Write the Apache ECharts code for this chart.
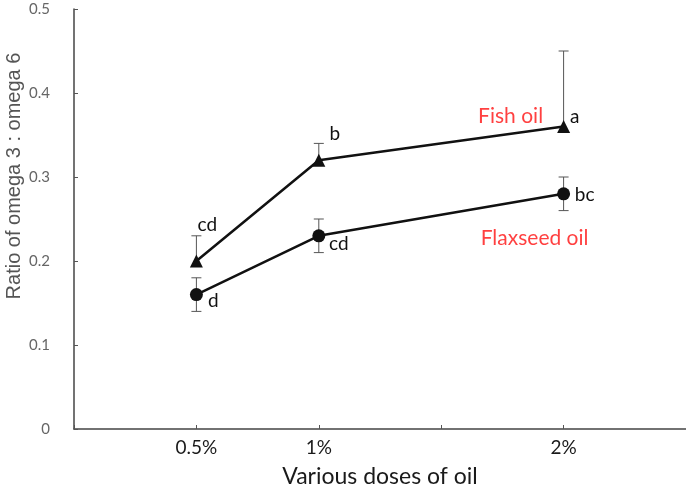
<!DOCTYPE html>
<html><head><meta charset="utf-8">
<script src="https://cdn.jsdelivr.net/npm/echarts@6/dist/echarts.min.js"></script>
<style>html,body{margin:0;padding:0;background:#fff}#c{width:686px;height:495px}</style>
</head><body><div id="c"></div>
<script>
const doses = [0.5, 1, 2];
const xTickLabels = {0.5: '0.5%', 1: '1%', 2: '2%'};
const seriesNames = ['Fish oil', 'Flaxseed oil'];
const fishMean = [0.20, 0.32, 0.36];
const fishErrUp = [0.03, 0.02, 0.09];
const fishLetters = ['cd', 'b', 'a'];
const flaxMean = [0.16, 0.23, 0.28];
const flaxErr = [0.02, 0.02, 0.02];
const flaxLetters = ['d', 'cd', 'bc'];
const xAxisTitle = 'Various doses of oil';
const yAxisTitle = 'Ratio of omega 3 : omega 6';

const fishOffsets = [[11,-36],[16,-26],[11,-10]];
const flaxOffsets = [[17,6],[20,8],[21,1]];

const fishErrTop = doses.map((d,i)=>[d, fishMean[i], fishMean[i]+fishErrUp[i], 0]);
const flaxErrBars = doses.map((d,i)=>[d, flaxMean[i]-flaxErr[i], flaxMean[i]+flaxErr[i], 1]);

function renderErr(params, api) {
  const x = api.value(0), lo = api.value(1), hi = api.value(2), capLo = api.value(3);
  const pHi = api.coord([x, hi]), pLo = api.coord([x, lo]);
  const w = 5;
  const style = {stroke: '#555', lineWidth: 1};
  const children = [
    {type: 'line', shape: {x1: pHi[0], y1: pHi[1], x2: pLo[0], y2: pLo[1]}, style},
    {type: 'line', shape: {x1: pHi[0]-w, y1: pHi[1], x2: pHi[0]+w, y2: pHi[1]}, style}
  ];
  if (capLo) children.push({type: 'line', shape: {x1: pLo[0]-w, y1: pLo[1], x2: pLo[0]+w, y2: pLo[1]}, style});
  return {type: 'group', children};
}

const FONT = 'Lato, "Open Sans", sans-serif';
function pointData(mean, letters, offs) {
  return doses.map((d,i)=>({
    value: [d, mean[i]],
    label: {show: true, formatter: letters[i], position: 'inside', offset: offs[i],
      color: '#111', fontSize: 19, fontFamily: FONT}
  }));
}

const chart = echarts.init(document.getElementById('c'));
chart.setOption({
  animation: false,
  grid: {left: 74, right: 0, top: 9, bottom: 66, containLabel: false, outerBoundsMode: 'none'},
  graphic: [{
    type: 'text', x: 14, y: 176, rotation: Math.PI / 2,
    style: {text: yAxisTitle, fill: '#555', fontSize: 20, align: 'center', verticalAlign: 'middle',
      fontFamily: '"Liberation Sans", Arial, sans-serif'}
  }],
  xAxis: {
    type: 'value', min: 0, max: 2.5, interval: 0.5,
    name: xAxisTitle, nameLocation: 'middle', nameGap: 36,
    nameTextStyle: {fontSize: 23, color: '#1a1a1a', fontFamily: FONT},
    axisLine: {show: true, lineStyle: {color: '#444', width: 1.5}},
    axisTick: {show: true, inside: true, length: 4, lineStyle: {color: '#555'}},
    axisLabel: {formatter: v => xTickLabels[v] || '', color: '#1a1a1a', fontSize: 19, margin: 9,
      fontFamily: FONT},
    splitLine: {show: false}
  },
  yAxis: {
    type: 'value', min: 0, max: 0.5, interval: 0.1,
    axisLine: {show: true, lineStyle: {color: '#444', width: 1.5}},
    axisTick: {show: true, inside: true, length: 4, lineStyle: {color: '#555'}},
    axisLabel: {color: '#666', fontSize: 15, margin: 24, fontFamily: FONT},
    splitLine: {show: false}
  },
  series: [
    {type: 'custom', renderItem: renderErr, data: fishErrTop, z: 1, silent: true},
    {type: 'custom', renderItem: renderErr, data: flaxErrBars, z: 1, silent: true},
    {name: seriesNames[0], type: 'line', data: pointData(fishMean, fishLetters, fishOffsets),
      symbol: 'triangle', symbolSize: 13, lineStyle: {color: '#111', width: 2.5},
      itemStyle: {color: '#111'}, z: 3},
    {name: seriesNames[1], type: 'line', data: pointData(flaxMean, flaxLetters, flaxOffsets),
      symbol: 'circle', symbolSize: 13, lineStyle: {color: '#111', width: 2.5},
      itemStyle: {color: '#111'}, z: 3},
    {type: 'scatter', symbolSize: 0, silent: true, z: 4,
      data: [
        {value: [doses[2], fishMean[2]], label: {show: true, formatter: seriesNames[0], position: 'inside', offset: [-53,-10]}},
        {value: [doses[2], flaxMean[2]], label: {show: true, formatter: seriesNames[1], position: 'inside', offset: [-29,44]}}
      ],
      label: {color: '#ff1010', fontSize: 21, fontFamily: FONT}
    }
  ]
});
</script>
</body></html>
